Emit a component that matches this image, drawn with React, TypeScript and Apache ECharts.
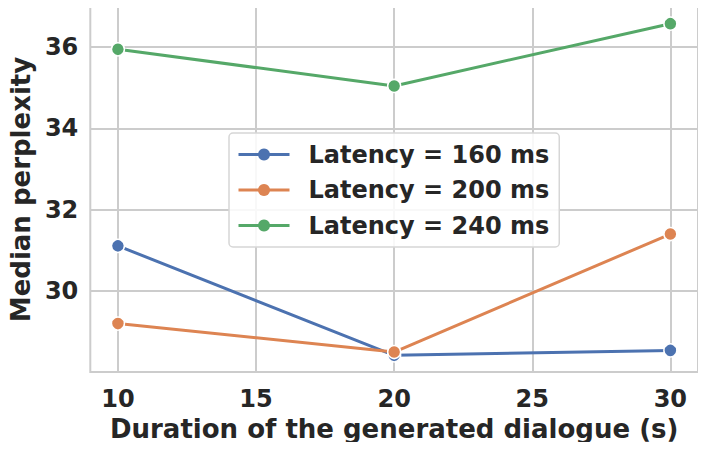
import React, { useEffect, useRef } from "react";
import * as echarts from "echarts";

const durations = [10, 20, 30];
const latency160 = [31.11, 28.42, 28.54];
const latency200 = [29.2, 28.5, 31.4];
const latency240 = [35.94, 35.04, 36.57];
const seriesNames = ["Latency = 160 ms", "Latency = 200 ms", "Latency = 240 ms"];
const colors = ["#4c72b0", "#dd8452", "#55a868"];
const xTicks = [10, 15, 20, 25, 30];
const yTicks = [30, 32, 34, 36];

const FONT = "DejaVu Sans";
const TEXT = "#262626";
const GRID = "#cccccc";

export default function App() {
  const ref = useRef<HTMLDivElement>(null);
  useEffect(() => {
    if (!ref.current) return;
    const chart = echarts.init(ref.current, undefined, { renderer: "svg" });
    const all = [latency160, latency200, latency240];
    chart.setOption({
      animation: false,
      backgroundColor: "#ffffff",
      textStyle: { fontFamily: FONT },
      grid: {
        left: 88,
        right: 8,
        top: 7,
        bottom: 78,
        show: true,
        borderColor: GRID,
        borderWidth: 2,
        backgroundColor: "transparent",
      },
      legend: {
        orient: "vertical",
        left: 229,
        top: 133,
        padding: [9.5, 10, 9.5, 8],
        itemGap: 11.5,
        itemWidth: 51,
        itemHeight: 15,
        backgroundColor: "rgba(255,255,255,0.85)",
        borderColor: "#d6d6d6",
        borderWidth: 1.5,
        borderRadius: 4,
        lineStyle: { width: 3 },
        itemStyle: { borderWidth: 0 },
        textStyle: {
          fontFamily: FONT,
          fontWeight: "bold",
          fontSize: 24,
          color: TEXT,
          lineHeight: 24,
          padding: [0, 0, 0, 14],
        },
        data: seriesNames,
      },
      xAxis: {
        type: "value",
        min: 9,
        max: 31,
        name: "Duration of the generated dialogue (s)",
        nameLocation: "middle",
        nameGap: 43,
        nameTextStyle: { fontFamily: FONT, fontWeight: "bold", fontSize: 26, color: TEXT },
        axisLine: { show: false },
        axisTick: { show: false, customValues: xTicks },
        axisLabel: {
          customValues: xTicks,
          fontFamily: FONT,
          fontWeight: "bold",
          fontSize: 24,
          color: TEXT,
          margin: 15,
        },
        splitLine: { show: true, lineStyle: { color: GRID, width: 2 } },
      },
      yAxis: {
        type: "value",
        min: 28.01,
        max: 36.98,
        name: "Median perplexity",
        nameLocation: "middle",
        nameGap: 53,
        nameTextStyle: { fontFamily: FONT, fontWeight: "bold", fontSize: 26, color: TEXT },
        axisLine: { show: false },
        axisTick: { show: false, customValues: yTicks },
        axisLabel: {
          customValues: yTicks,
          fontFamily: FONT,
          fontWeight: "bold",
          fontSize: 24,
          color: TEXT,
          margin: 12,
        },
        splitLine: { show: true, lineStyle: { color: GRID, width: 2 } },
      },
      series: all.map((vals, i) => ({
        name: seriesNames[i],
        type: "line",
        data: durations.map((d, j) => [d, vals[j]]),
        color: colors[i],
        symbol: "circle",
        symbolSize: 13,
        showSymbol: true,
        lineStyle: { width: 3, color: colors[i] },
        itemStyle: { color: colors[i], borderColor: "#ffffff", borderWidth: 1.5 },
        z: 3,
      })),
    });
    return () => chart.dispose();
  }, []);
  return <div ref={ref} style={{ width: 706, height: 450, margin: -8 }} />;
}
